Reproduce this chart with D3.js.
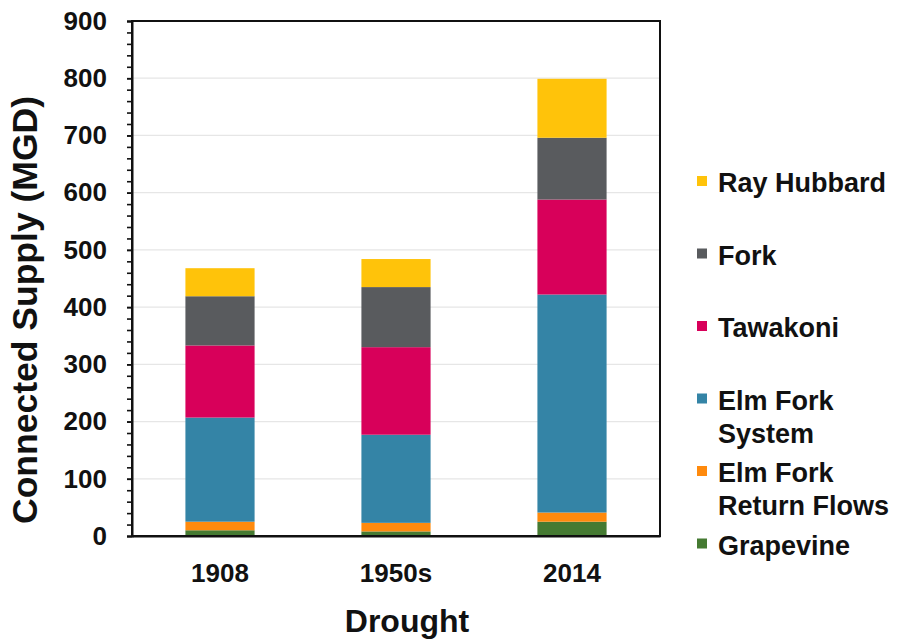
<!DOCTYPE html>
<html>
<head>
<meta charset="utf-8">
<script src="https://cdn.jsdelivr.net/npm/d3@7"></script>
<style>
  html, body { margin: 0; padding: 0; background: #ffffff; }
  svg { display: block; font-family: "Liberation Sans", Arial, sans-serif; font-weight: bold; }
</style>
</head>
<body>
<svg id="chart" width="897" height="640"></svg>
<script>
// Connected supply by drought period (MGD), stacked bottom to top
const droughts = ["1908", "1950s", "2014"];
const grapevine = [10, 8, 25];
const elmForkReturnFlows = [15, 15, 16];
const elmForkSystem = [182, 154, 381];
const tawakoni = [126, 153, 166];
const fork = [86, 105, 108];
const rayHubbard = [49, 49, 103];

const seriesNames = ["Grapevine", "Elm Fork Return Flows", "Elm Fork System", "Tawakoni", "Fork", "Ray Hubbard"];
const seriesValues = [grapevine, elmForkReturnFlows, elmForkSystem, tawakoni, fork, rayHubbard];
const seriesColors = ["#457a32", "#ff8a0d", "#3484a6", "#d8005a", "#595b5e", "#ffc30a"];
const legendLines = {
  "Ray Hubbard": ["Ray Hubbard"],
  "Fork": ["Fork"],
  "Tawakoni": ["Tawakoni"],
  "Elm Fork System": ["Elm Fork", "System"],
  "Elm Fork Return Flows": ["Elm Fork", "Return Flows"],
  "Grapevine": ["Grapevine"]
};
const yMajorTicks = [0, 100, 200, 300, 400, 500, 600, 700, 800, 900];
const yMinorTicks = d3.range(0, 901, 20);

const xTitle = "Drought";
const yTitle = "Connected Supply (MGD)";

// Build one row per drought for the stack layout
const rows = droughts.map((d, i) => {
  const row = { drought: d };
  seriesNames.forEach((s, j) => { row[s] = seriesValues[j][i]; });
  return row;
});

const svg = d3.select("#chart");
const plot = { left: 132, right: 660, top: 21, bottom: 536 };

const x = d3.scaleBand()
  .domain(droughts)
  .range([plot.left, plot.right])
  .paddingInner(0.607)
  .paddingOuter(0.3035);

const y = d3.scaleLinear()
  .domain([0, 900])
  .range([plot.bottom, plot.top]);

const color = d3.scaleOrdinal().domain(seriesNames).range(seriesColors);

// Horizontal gridlines
svg.append("g")
  .selectAll("line")
  .data(yMajorTicks.filter(v => v > 0 && v < 900))
  .join("line")
  .attr("x1", plot.left)
  .attr("x2", plot.right)
  .attr("y1", d => y(d))
  .attr("y2", d => y(d))
  .attr("stroke", "#e6e6e6")
  .attr("stroke-width", 1.2);

// Stacked bars
const stacked = d3.stack().keys(seriesNames)(rows);
svg.append("g")
  .selectAll("g")
  .data(stacked)
  .join("g")
  .attr("fill", d => color(d.key))
  .selectAll("rect")
  .data(d => d)
  .join("rect")
  .attr("x", d => x(d.data.drought))
  .attr("width", x.bandwidth())
  .attr("y", d => y(d[1]))
  .attr("height", d => y(d[0]) - y(d[1]));

// Plot frame
svg.append("rect")
  .attr("x", plot.left)
  .attr("y", plot.top)
  .attr("width", plot.right - plot.left)
  .attr("height", plot.bottom - plot.top)
  .attr("fill", "none")
  .attr("stroke", "#111")
  .attr("stroke-width", 2);

// Y axis: minor ticks every 20, labels every 100
const yMinor = svg.append("g")
  .attr("transform", `translate(${plot.left},0)`)
  .call(d3.axisLeft(y).tickValues(yMinorTicks).tickSize(5).tickFormat(""));
yMinor.select(".domain").attr("stroke", "#111").attr("stroke-width", 2);
yMinor.selectAll(".tick line").attr("stroke", "#111").attr("stroke-width", 1.6);

const yMajor = svg.append("g")
  .attr("transform", `translate(${plot.left},0)`)
  .call(d3.axisLeft(y).tickValues(yMajorTicks).tickSize(5).tickPadding(20).tickFormat(d3.format("d")));
yMajor.select(".domain").remove();
yMajor.selectAll(".tick line").attr("stroke", "#111").attr("stroke-width", 1.6);
yMajor.selectAll(".tick text")
  .attr("fill", "#111")
  .style("font-size", "26px")
  .style("font-weight", "bold")
  .style("font-family", "'Liberation Sans', Arial, sans-serif");

// X axis: category labels only
const xAxis = svg.append("g")
  .attr("transform", `translate(0,${plot.bottom})`)
  .call(d3.axisBottom(x).tickSize(0).tickPadding(28));
xAxis.select(".domain").attr("stroke", "#111").attr("stroke-width", 2);
xAxis.selectAll(".tick text")
  .attr("fill", "#111")
  .style("font-size", "26px")
  .style("font-weight", "bold")
  .style("font-family", "'Liberation Sans', Arial, sans-serif");

// Axis titles
svg.append("text")
  .attr("x", 407)
  .attr("y", 632)
  .attr("text-anchor", "middle")
  .attr("fill", "#111")
  .style("font-size", "32px")
  .text(xTitle);

svg.append("text")
  .attr("transform", "translate(37,310) rotate(-90)")
  .attr("text-anchor", "middle")
  .attr("fill", "#111")
  .style("font-size", "35.5px")
  .text(yTitle);

// Legend, top entry is the top of the stack
const legendOrder = seriesNames.slice().reverse();
const legend = svg.append("g");
const entry = legend.selectAll("g")
  .data(legendOrder)
  .join("g")
  .attr("transform", (d, i) => `translate(697,${192 + i * 72.5})`);

entry.append("rect")
  .attr("x", 0)
  .attr("y", -16)
  .attr("width", 10)
  .attr("height", 10)
  .attr("fill", d => color(d));

entry.append("text")
  .attr("fill", "#111")
  .style("font-size", "27px")
  .selectAll("tspan")
  .data(d => legendLines[d])
  .join("tspan")
  .attr("x", 21)
  .attr("y", (d, i) => i * 33)
  .text(d => d);
</script>
</body>
</html>
